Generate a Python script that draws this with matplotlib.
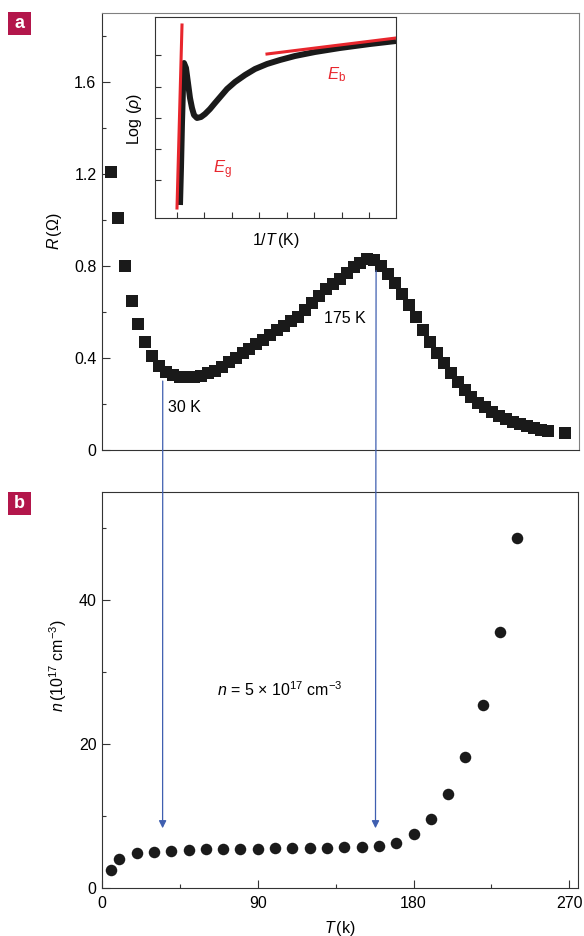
import numpy as np
import matplotlib
matplotlib.use("Agg")
import matplotlib.pyplot as plt
from matplotlib import font_manager
from matplotlib.patches import ConnectionPatch, Rectangle

# pick a condensed-looking sans if available
names = {f.name for f in font_manager.fontManager.ttflist}
font = "Liberation Sans Narrow" if "Liberation Sans Narrow" in names else "Liberation Sans"
plt.rcParams["font.family"] = [font, "DejaVu Sans"]
plt.rcParams["mathtext.fontset"] = "custom"
plt.rcParams["mathtext.rm"] = font
plt.rcParams["mathtext.it"] = font + ":italic"
plt.rcParams["mathtext.bf"] = font + ":bold"

# -------------------------------------------------
# data: panel a, resistance vs temperature
# -------------------------------------------------
T_a = [5, 9, 13, 17, 21, 25, 29, 33, 37, 41, 45, 49, 53, 57, 61, 65, 69, 73,
       77, 81, 85, 89, 93, 97, 101, 105, 109, 113, 117, 121, 125, 129, 133,
       137, 141, 145, 149, 153, 157, 161, 165, 169, 173, 177, 181, 185, 189,
       193, 197, 201, 205, 209, 213, 217, 221, 225, 229, 233, 237, 241, 245,
       249, 253, 257, 267]
R_a = [1.21, 1.01, 0.80, 0.65, 0.55, 0.47, 0.41, 0.365, 0.34, 0.325, 0.318,
       0.316, 0.318, 0.324, 0.333, 0.345, 0.36, 0.383, 0.40, 0.42, 0.44, 0.46,
       0.48, 0.50, 0.52, 0.54, 0.56, 0.58, 0.61, 0.64, 0.67, 0.70, 0.72, 0.745,
       0.77, 0.795, 0.815, 0.83, 0.825, 0.80, 0.765, 0.726, 0.68, 0.63, 0.58,
       0.52, 0.47, 0.42, 0.38, 0.335, 0.295, 0.26, 0.23, 0.205, 0.185, 0.165,
       0.148, 0.133, 0.122, 0.112, 0.103, 0.095, 0.089, 0.083, 0.074]

# inset: log(rho) vs 1/T (arbitrary units)
inv_T = [25, 26, 27, 28, 29, 31, 33, 35, 37, 39, 42, 46, 50, 55, 60, 66, 72,
         80, 90, 100, 112, 125, 140, 160, 185, 215, 241]
log_rho = [13, 50, 95, 130, 155, 150, 135, 120, 110, 103, 100, 101, 104, 109,
           115, 122, 129, 136, 143, 149, 154, 158, 162, 166, 170, 174, 177]
fit_g_x = [22, 27]
fit_g_y = [10, 193]
fit_b_x = [112, 241]
fit_b_y = [164, 180]

# panel b, carrier density vs temperature
T_b = [5, 10, 20, 30, 40, 50, 60, 70, 80, 90, 100, 110, 120, 130, 140, 150,
       160, 170, 180, 190, 200, 210, 220, 230, 240]
n_b = [2.5, 4.0, 4.9, 5.05, 5.18, 5.28, 5.35, 5.37, 5.4, 5.42, 5.5, 5.55,
       5.5, 5.6, 5.7, 5.75, 5.9, 6.3, 7.5, 9.6, 13.1, 18.2, 25.4, 35.5, 48.6]

# arrows: (T, start R in panel a, end n in panel b)
arrow_T = [35, 158]
arrow_R = [0.30, 0.78]
arrow_n = [8.3, 8.3]

blue = "#3f5fb0"
red = "#e8262d"
crimson = "#b3164b"

fig = plt.figure(figsize=(5.84, 9.36), dpi=100)
ax1 = fig.add_axes([0.1747, 0.5192, 0.8168, 0.4669])
ax2 = fig.add_axes([0.1747, 0.0513, 0.815, 0.4231])

tick_kw = dict(direction="in", labelsize=11.5, width=0.8, color="#333333", pad=4)

# ---- panel a ----
ax1.plot(T_a, R_a, "s", color="#1a1a1a", markersize=9.2, markeredgewidth=0)
ax1.set_xlim(0, 275)
ax1.set_ylim(0, 1.9)
ax1.set_xticks([])
ax1.set_yticks([0, 0.4, 0.8, 1.2, 1.6])
ax1.set_yticklabels(["0", "0.4", "0.8", "1.2", "1.6"])
ax1.set_yticks([0.2, 0.6, 1.0, 1.4, 1.8], minor=True)
ax1.tick_params(axis="y", which="major", length=6, **tick_kw)
ax1.tick_params(axis="y", which="minor", length=3, direction="in",
                width=0.8, color="#333333")
for s in ["left", "bottom"]:
    ax1.spines[s].set_color("#333333")
for s in ["top", "right"]:
    ax1.spines[s].set_color("#808080")
ax1.text(38, 0.187, "30 K", fontsize=11.5, va="center", ha="left")
ax1.text(152, 0.57, "175 K", fontsize=11.5, va="center", ha="right")
fig.text(55 / 584, 1 - 231 / 936, r"$R\,$(Ω)", rotation=90, fontsize=11.5,
         ha="center", va="center")

# inset
axi = fig.add_axes([155 / 584, 1 - 218 / 936, 241 / 584, 201 / 936])
axi.plot(inv_T, log_rho, color="#1a1a1a", lw=4.3, solid_capstyle="butt",
         solid_joinstyle="round")
axi.plot(fit_g_x, fit_g_y, color=red, lw=2.2)
axi.plot(fit_b_x, fit_b_y, color=red, lw=2.2)
axi.set_xlim(0, 241)
axi.set_ylim(0, 201)
axi.set_xticks([22, 49, 77, 104, 132, 159, 187, 214])
axi.set_yticks([38, 69, 100, 131, 163])
axi.tick_params(direction="in", length=4, width=0.8, color="#333333",
                labelbottom=False, labelleft=False)
for s in axi.spines.values():
    s.set_color("#333333")
axi.text(58, 48, r"$E_{\rm g}$", color=red, fontsize=12, ha="left", va="center")
axi.text(172, 143, r"$E_{\rm b}$", color=red, fontsize=12, ha="left", va="center")
fig.text(276 / 584, 1 - 241 / 936, r"1/$T\,$(K)", fontsize=11.5,
         ha="center", va="center")
fig.text(135 / 584, 1 - 119 / 936, r"Log ($\rho$)", rotation=90,
         fontsize=11.5, ha="center", va="center")

# ---- panel b ----
ax2.plot(T_b, n_b, "o", color="#1a1a1a", markersize=8.3, markeredgewidth=0)
ax2.set_xlim(0, 275)
ax2.set_ylim(0, 55)
ax2.set_xticks([0, 90, 180, 270])
ax2.set_xticks([45, 135, 225], minor=True)
ax2.set_yticks([0, 20, 40])
ax2.set_yticks([10, 30, 50], minor=True)
ax2.tick_params(axis="both", which="major", length=6, **tick_kw)
ax2.tick_params(axis="x", which="major", pad=6)
ax2.tick_params(axis="both", which="minor", length=3, direction="in",
                width=0.8, color="#333333")
for s in ax2.spines.values():
    s.set_color("#333333")
ax2.text(102.7, 27.5, r"$n$ = 5 × 10$^{17}$ cm$^{-3}$", fontsize=11.5,
         ha="center", va="center")
fig.text(340 / 584, 1 - 928 / 936, r"$T\,$(k)", fontsize=11.5,
         ha="center", va="center")
fig.text(58 / 584, 1 - 666 / 936, r"$n\,$(10$^{17}$ cm$^{-3}$)", rotation=90,
         fontsize=11.5, ha="center", va="center")

# arrows from panel a down to panel b
for t, r, n in zip(arrow_T, arrow_R, arrow_n):
    con = ConnectionPatch(xyA=(t, r), coordsA=ax1.transData,
                          xyB=(t, n), coordsB=ax2.transData,
                          arrowstyle="-|>", color=blue, lw=0.9,
                          mutation_scale=11, shrinkA=0, shrinkB=0)
    fig.add_artist(con)

# panel letters
for lab, ytop in [("a", 12), ("b", 492)]:
    fig.add_artist(Rectangle((8 / 584, 1 - (ytop + 23) / 936), 23 / 584, 23 / 936,
                             transform=fig.transFigure, color=crimson, lw=0))
    fig.text(19.5 / 584, 1 - (ytop + 11.5) / 936, lab, color="white",
             fontsize=13, fontweight="bold", ha="center", va="center",
             family=["Liberation Sans", "DejaVu Sans"])

fig.savefig("out.png", dpi=100)
